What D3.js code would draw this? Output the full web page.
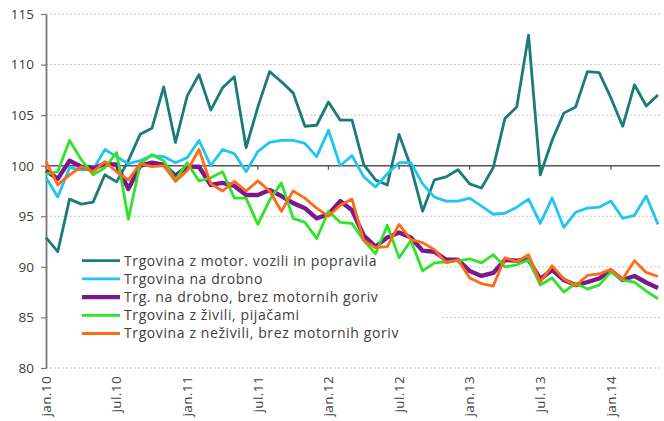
<!DOCTYPE html>
<html><head><meta charset="utf-8">
<script src="https://cdn.jsdelivr.net/npm/d3@7"></script>
<style>body{margin:0;background:#fff} svg{display:block}</style>
</head><body><svg id="c" width="664" height="421"></svg>
<script>
// Categories: monthly, jan.10 .. maj.14
const monthNames = ["jan","feb","mar","apr","maj","jun","jul","avg","sep","okt","nov","dec"];
const categories = [];
for (let yr = 10; yr <= 14; yr++) for (let m = 0; m < 12; m++) categories.push(monthNames[m] + "." + yr);
categories.length = 53;

const tickLabels = ["jan.10","jul.10","jan.11","jul.11","jan.12","jul.12","jan.13","jul.13","jan.14"];
const yTicks = [80, 85, 90, 95, 100, 105, 110, 115];

const seriesNames = [
  "Trgovina z motor. vozili in popravila",
  "Trgovina na drobno",
  "Trg. na drobno, brez motornih goriv",
  "Trgovina z živili, pijačami",
  "Trgovina z neživili, brez motornih goriv"
];
const seriesColors = ["#1b7b78", "#22c4f4", "#7a1a8a", "#2fe32a", "#ff6a14"];
const seriesWidths = [2.8, 2.8, 4.4, 2.8, 2.8];

const motor = [92.9,91.5,96.7,96.2,96.4,99.1,98.4,100.5,103.1,103.7,107.8,102.3,106.9,109.0,105.5,107.7,108.8,101.8,105.8,109.3,108.3,107.2,103.9,104.0,106.3,104.5,104.5,100.1,98.6,98.1,103.1,99.9,95.5,98.6,98.9,99.6,98.2,97.8,99.8,104.7,105.8,112.9,99.1,102.5,105.2,105.8,109.3,109.2,106.7,103.9,108.0,105.9,107.0];
const drobno = [98.8,96.9,99.8,99.6,99.6,101.6,100.9,100.2,100.5,101.0,100.9,100.3,100.8,102.5,100.0,101.6,101.2,99.4,101.4,102.3,102.5,102.5,102.2,100.9,103.5,100.0,101.0,98.9,97.9,99.2,100.3,100.3,98.2,96.9,96.5,96.5,96.8,96.0,95.2,95.3,95.9,96.7,94.3,96.8,93.9,95.4,95.8,95.9,96.5,94.8,95.1,97.0,94.2];
const brezGoriv = [99.5,98.7,100.5,99.9,99.7,100.2,100.1,97.7,100.0,100.3,100.1,99.0,99.9,99.9,98.1,98.3,98.0,97.1,97.1,97.6,97.0,96.3,95.8,94.8,95.2,96.5,95.6,93.1,92.0,92.9,93.4,92.9,91.6,91.5,90.7,90.7,89.6,89.1,89.4,90.7,90.6,90.7,88.8,89.7,88.7,88.2,88.5,88.85,89.65,88.7,89.1,88.45,87.9];
const zivila = [99.2,99.4,102.5,100.6,99.1,99.8,101.3,94.7,100.2,101.1,100.5,98.6,100.3,98.5,98.8,99.4,96.8,96.8,94.2,96.6,98.3,94.8,94.4,92.8,95.5,94.4,94.3,92.6,91.3,94.1,90.9,92.6,89.6,90.4,90.5,90.6,90.8,90.4,91.2,90.0,90.2,90.7,88.2,88.9,87.5,88.4,87.8,88.2,89.5,88.7,88.5,87.6,86.85];
const nezivila = [100.4,98.1,99.1,99.9,99.4,100.4,99.4,98.6,100.2,99.9,100.0,98.45,99.5,101.6,98.2,97.5,98.45,97.5,98.5,97.5,95.5,97.5,96.8,95.8,95.0,96.1,96.7,92.6,91.9,92.0,94.2,92.7,92.4,91.7,90.4,90.7,88.9,88.35,88.1,90.9,90.5,91.2,88.5,90.1,88.8,88.15,89.15,89.3,89.75,88.8,90.6,89.45,89.05];

const seriesValues = [motor, drobno, brezGoriv, zivila, nezivila];

const svg = d3.select("#c");
const font = "'Open Sans', 'Noto Sans', sans-serif";
const textColor = "#3d3d3d";

const x = d3.scalePoint().domain(categories).range([46, 658]);
const y = d3.scaleLinear().domain([80, 115]).range([368, 14]);
const xEnd = 660;

// Gridlines
svg.append("g").selectAll("line").data(yTicks.filter(v => v !== 100)).join("line")
  .attr("x1", 46).attr("x2", xEnd)
  .attr("y1", d => y(d)).attr("y2", d => y(d))
  .attr("stroke", "#c9c9c9").attr("stroke-width", 1).attr("stroke-dasharray", "2,2");

// Legend background
const legendRows = seriesNames.map((n, i) => ({name: n, color: seriesColors[i], width: seriesWidths[i], i}));
svg.append("rect").attr("x", 48).attr("y", 250).attr("width", 392).attr("height", 94).attr("fill", "#fff");

// Baseline at 100
svg.append("line").attr("x1", 46).attr("x2", xEnd).attr("y1", y(100)).attr("y2", y(100))
  .attr("stroke", "#555").attr("stroke-width", 1.5);
svg.append("g").selectAll("line").data(tickLabels).join("line")
  .attr("x1", d => x(d)).attr("x2", d => x(d))
  .attr("y1", y(100)).attr("y2", y(100) + 4)
  .attr("stroke", "#555").attr("stroke-width", 1.2);

// Y axis
const yAxis = svg.append("g").attr("transform", "translate(46,0)")
  .call(d3.axisLeft(y).tickValues(yTicks).tickSize(5).tickPadding(7).tickSizeOuter(0));
yAxis.select(".domain").attr("stroke", "#777").attr("stroke-width", 1.8);
yAxis.selectAll(".tick line").attr("stroke", "#777").attr("stroke-width", 1.2);
yAxis.selectAll(".tick text").attr("fill", textColor).attr("font-family", font).attr("font-size", 13.5);

// X labels
svg.append("g").selectAll("text").data(tickLabels).join("text")
  .attr("transform", d => `translate(${x(d)},376) rotate(-90)`)
  .attr("text-anchor", "end").attr("dy", "0.35em")
  .attr("fill", textColor).attr("font-family", font).attr("font-size", 13.5)
  .attr("letter-spacing", "0.4px")
  .text(d => d);

// Lines
const line = d3.line().x((d, i) => x(categories[i])).y(d => y(d));
svg.append("g").selectAll("path").data(seriesValues).join("path")
  .attr("d", d => line(d)).attr("fill", "none")
  .attr("stroke", (d, i) => seriesColors[i]).attr("stroke-width", (d, i) => seriesWidths[i])
  .attr("stroke-linejoin", "round");

// Legend
const lg = svg.append("g").selectAll("g").data(legendRows).join("g")
  .attr("transform", d => `translate(82,${260.7 + d.i * 18.2})`);
lg.append("line").attr("x1", 0).attr("x2", 38).attr("stroke", d => d.color).attr("stroke-width", d => d.width);
lg.append("text").attr("x", 42).attr("dy", "0.35em")
  .attr("fill", textColor).attr("font-family", font).attr("font-size", 14)
  .attr("letter-spacing", "0.6px")
  .text(d => d.name);
</script></body></html>
